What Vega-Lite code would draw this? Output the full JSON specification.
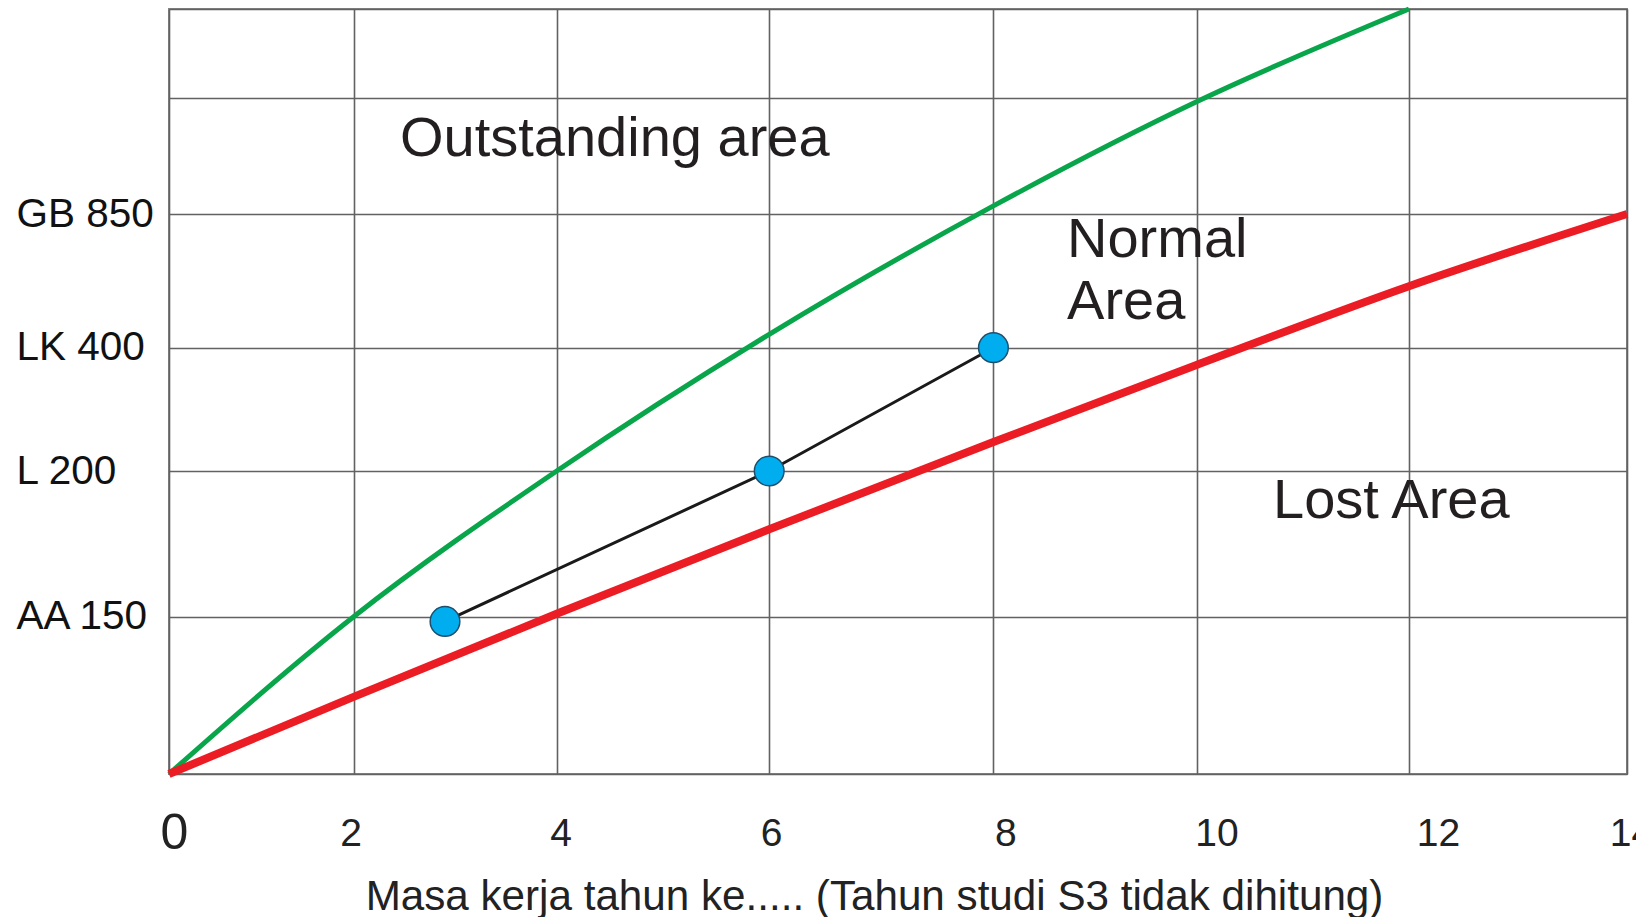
{
  "$schema": "https://vega.github.io/schema/vega-lite/v6.json",
  "autosize": {"type": "none"},
  "width": 1458,
  "height": 765,
  "padding": {"left": 169, "top": 9, "right": 9, "bottom": 143},
  "background": "white",
  "config": {
    "view": {"stroke": "#858585", "strokeWidth": 2},
    "font": "Liberation Sans"
  },
  "datasets": {
    "green": [
      {"year": 0, "level": 0},
      {"year": 2, "level": 1},
      {"year": 4, "level": 2},
      {"year": 6, "level": 3.1},
      {"year": 8, "level": 4.07},
      {"year": 10, "level": 4.97},
      {"year": 12, "level": 6}
    ],
    "red": [
      {"year": 0, "level": 0},
      {"year": 2, "level": 0.49},
      {"year": 4, "level": 1.02},
      {"year": 6, "level": 1.6},
      {"year": 8, "level": 2.235},
      {"year": 10, "level": 2.86},
      {"year": 12, "level": 3.46},
      {"year": 14, "level": 4}
    ],
    "career": [
      {"year": 2.9, "level": 0.97},
      {"year": 6, "level": 2},
      {"year": 8, "level": 3}
    ],
    "notes": [
      {"year": 2.457, "level": 4.652, "label": "Outstanding area"},
      {"year": 8.725, "level": 3.809, "label": "Normal"},
      {"year": 8.725, "level": 3.345, "label": "Area"},
      {"year": 10.72, "level": 1.797, "label": "Lost Area"}
    ]
  },
  "encoding": {
    "x": {
      "field": "year",
      "type": "quantitative",
      "scale": {
        "domain": [0, 2, 4, 6, 8, 10, 12, 14],
        "range": [0, 184.6, 387.7, 600.2, 824.4, 1027.5, 1240, 1458],
        "nice": false,
        "zero": false
      },
      "axis": {
        "values": [0, 2, 4, 6, 8, 10, 12, 14],
        "format": "d",
        "domain": false,
        "ticks": false,
        "tickSize": 0,
        "grid": true,
        "gridColor": "#626262",
        "gridWidth": 1.6,
        "labelFont": "Liberation Sans",
        "labelColor": "#222222",
        "labelFontSize": {"condition": {"test": "datum.value == 0", "value": 50}, "value": 39},
        "labelOffset": {
          "condition": [
            {"test": "datum.value == 0", "value": 5},
            {"test": "datum.value == 2", "value": -3},
            {"test": "datum.value == 4", "value": 4},
            {"test": "datum.value == 6", "value": 2},
            {"test": "datum.value == 8", "value": 12},
            {"test": "datum.value == 10", "value": 20},
            {"test": "datum.value == 12", "value": 29}
          ],
          "value": 4
        },
        "labelBaseline": "middle",
        "labelPadding": 59,
        "labelOverlap": false,
        "labelFlush": false,
        "labelBound": false,
        "title": "Masa kerja tahun ke..... (Tahun studi S3 tidak dihitung)",
        "titleFont": "Liberation Sans",
        "titleFontSize": 42.2,
        "titleFontWeight": "normal",
        "titleColor": "#222222",
        "titleAlign": "center",
        "titleBaseline": "middle",
        "titleAnchor": null,
        "titleX": 705,
        "titleY": 122
      }
    },
    "y": {
      "field": "level",
      "type": "quantitative",
      "scale": {
        "domain": [0, 1, 2, 3, 4, 5, 6],
        "range": [765, 607.7, 462, 338.7, 205, 89.3, 0],
        "nice": false,
        "zero": false
      },
      "axis": {
        "values": [0, 1, 2, 3, 4, 5, 6],
        "labelExpr": "datum.value == 1 ? 'AA 150' : datum.value == 2 ? 'L 200' : datum.value == 3 ? 'LK 400' : datum.value == 4 ? 'GB 850' : ''",
        "domain": false,
        "ticks": false,
        "tickSize": 0,
        "grid": true,
        "gridColor": "#626262",
        "gridWidth": 1.6,
        "labelFont": "Liberation Sans",
        "labelFontSize": 40.5,
        "labelColor": "#111111",
        "labelAlign": "left",
        "labelBaseline": "middle",
        "labelPadding": 153,
        "labelLimit": 300,
        "labelOverlap": false,
        "labelFlush": false,
        "labelBound": false,
        "title": null
      }
    }
  },
  "layer": [
    {
      "data": {"name": "green"},
      "mark": {"type": "line", "color": "#09a54a", "strokeWidth": 5, "interpolate": "monotone", "strokeCap": "butt"}
    },
    {
      "data": {"name": "red"},
      "mark": {"type": "line", "color": "#ec1c24", "strokeWidth": 8, "interpolate": "monotone", "strokeCap": "butt"}
    },
    {
      "data": {"name": "career"},
      "mark": {"type": "line", "color": "#1a1a1a", "strokeWidth": 3}
    },
    {
      "data": {"name": "career"},
      "mark": {"type": "point", "shape": "circle", "filled": true, "size": 880, "fill": "#00aeef", "stroke": "#1d4e6b", "strokeWidth": 1.5, "opacity": 1}
    },
    {
      "data": {"name": "notes"},
      "mark": {"type": "text", "align": "left", "baseline": "middle", "fontSize": 56, "font": "Liberation Sans", "color": "#231f20"},
      "encoding": {"text": {"field": "label", "type": "nominal"}}
    }
  ]
}
